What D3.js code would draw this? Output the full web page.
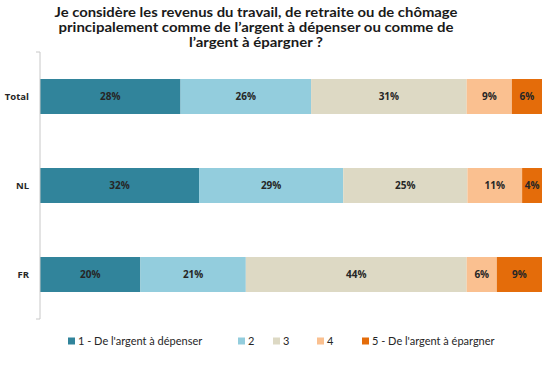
<!DOCTYPE html>
<html><head><meta charset="utf-8">
<script src="https://cdn.jsdelivr.net/npm/d3@7"></script>
<style>body{margin:0;background:#fff}</style>
</head><body>
<svg id="c" width="550" height="366"></svg>
<script>
const categories = ["Total", "NL", "FR"];
const seriesNames = ["1 - De l'argent à dépenser", "2", "3", "4", "5 - De l'argent à épargner"];
const s1 = [28, 32, 20];
const s2 = [26, 29, 21];
const s3 = [31, 25, 44];
const s4 = [9, 11, 6];
const s5 = [6, 4, 9];
const colors = ["#31849B", "#93CDDD", "#DDD9C4", "#FAC090", "#E46C0A"];
const titleLines = ["Je considère les revenus du travail, de retraite ou de chômage",
  "principalement comme de l’argent à dépenser ou comme de",
  "l’argent à épargner ?"];

const series = [s1, s2, s3, s4, s5];
const svg = d3.select("#c");
const font = "'Open Sans', sans-serif";
const tfont = "Lato, sans-serif";

const rows = categories.map((c, i) => {
  const vals = series.map(s => s[i]);
  const tot = d3.sum(vals);
  let acc = 0;
  return vals.map((v, k) => { const r = {cat: c, k, v, x0: acc / tot, x1: (acc + v) / tot}; acc += v; return r; });
});

const x = d3.scaleLinear().domain([0, 1]).range([40, 542]);
const y = d3.scaleBand().domain(categories).range([52, 319]).paddingInner(0.607).paddingOuter(0.3035);

// title
const titleW = [403, 395, 134];
svg.append("g").selectAll("text").data(titleLines).join("text")
  .attr("x", 256).attr("y", (d, i) => 17 + i * 15)
  .attr("text-anchor", "middle")
  .attr("textLength", (d, i) => titleW[i]).attr("lengthAdjust", "spacingAndGlyphs")
  .style("font-family", tfont).style("font-weight", "bold").style("font-size", "12.5px")
  .attr("fill", "#1a1a1a").text(d => d);

// bars
const g = svg.append("g");
rows.forEach(r => {
  g.selectAll(null).data(r).join("rect")
    .attr("x", d => x(d.x0)).attr("width", d => x(d.x1) - x(d.x0))
    .attr("y", d => y(d.cat)).attr("height", y.bandwidth())
    .attr("fill", d => colors[d.k]);
  g.selectAll(null).data(r).join("text")
    .attr("x", d => (x(d.x0) + x(d.x1)) / 2)
    .attr("y", d => y(d.cat) + y.bandwidth() / 2)
    .attr("dy", "0.35em").attr("text-anchor", "middle")
    .style("font-family", font).style("font-weight", "bold").style("font-size", "10px")
    .attr("fill", "#262626").text(d => d.v + "%");
});

// axis
const ax = svg.append("g").attr("transform", "translate(40,0)")
  .call(d3.axisLeft(y).tickSize(0).tickPadding(11));
ax.select(".domain").attr("stroke", "#C8C8C8").attr("d", "M-4,52H0V319H-4");
ax.selectAll("text").style("font-family", font).style("font-weight", "bold").style("font-size", "9.5px").attr("fill", "#262626");

// legend
const legX = [68, 238, 273, 317, 362];
const leg = svg.append("g").selectAll("g").data(seriesNames).join("g")
  .attr("transform", (d, i) => `translate(${legX[i]},341)`);
leg.append("rect").attr("x", 0).attr("y", -3.5).attr("width", 7).attr("height", 7).attr("fill", (d, i) => colors[i]);
leg.append("text").attr("x", 10).attr("dy", "0.35em")
  .style("font-family", tfont).style("font-size", "11px").attr("fill", "#262626").text(d => d);
</script>
</body></html>
